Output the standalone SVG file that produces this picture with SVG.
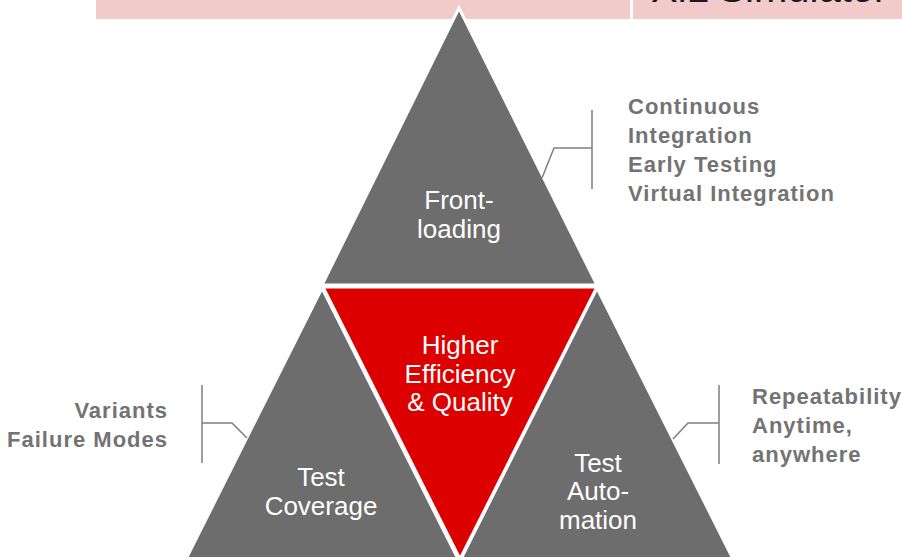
<svg xmlns="http://www.w3.org/2000/svg" width="902" height="557" viewBox="0 0 902 557">
<style>
.tri{fill:#6d6d6d;stroke:#fff;stroke-width:3;stroke-linejoin:miter}
.red{fill:#dc0000;stroke:#fff;stroke-width:3}
.in{font-family:"Liberation Sans",Arial,sans-serif;font-size:26px;fill:#fff;text-anchor:middle}
.lab{font-family:"Liberation Sans",Arial,sans-serif;font-size:22px;font-weight:bold;fill:#737373;letter-spacing:1px}
.br{fill:none;stroke:#7f7f7f;stroke-width:1.5}
</style>
<rect width="902" height="557" fill="#fff"/>
<g id="banner">
<rect x="96" y="0" width="534" height="19" fill="#f2caca"/>
<rect x="633" y="0" width="269" height="19" fill="#f2caca"/>
<text x="651" y="2" font-family="Liberation Sans,Arial,sans-serif" font-size="40" fill="#1a1a1a">XiL Simulator</text>
</g>
<g id="frontloading">
<polygon class="tri" points="459,8 322,285 597,285"/>
<text class="in" x="459" y="209">Front-</text>
<text class="in" x="459" y="238">loading</text>
</g>
<g id="coverage">
<polygon class="tri" points="322,288 185,561 459,561"/>
<text class="in" x="321" y="486">Test</text>
<text class="in" x="321" y="515">Coverage</text>
</g>
<g id="automation">
<polygon class="tri" points="597,288 460,561 734,561"/>
<text class="in" x="598" y="472">Test</text>
<text class="in" x="598" y="500">Auto-</text>
<text class="in" x="598" y="529">mation</text>
</g>
<g id="quality">
<polygon class="red" points="323,287 597,287 460,559"/>
<text class="in" x="460" y="354">Higher</text>
<text class="in" x="460" y="383">Efficiency</text>
<text class="in" x="460" y="411">&amp; Quality</text>
</g>
<g id="connectors">
<path class="br" d="M592,110 V189 M592,148 H554 L542,178"/>
<path class="br" d="M202,385 V463 M202,423 H232 L247,438"/>
<path class="br" d="M719,385 V464 M719,423 H688 L673,439"/>
</g>
<g id="labels-top">
<text class="lab" x="628" y="114">Continuous</text>
<text class="lab" x="628" y="143">Integration</text>
<text class="lab" x="628" y="172">Early Testing</text>
<text class="lab" x="628" y="201">Virtual Integration</text>
</g>
<g id="labels-left">
<text class="lab" x="168" y="418" text-anchor="end">Variants</text>
<text class="lab" x="168" y="447" text-anchor="end">Failure Modes</text>
</g>
<g id="labels-right">
<text class="lab" x="752" y="404">Repeatability</text>
<text class="lab" x="752" y="433">Anytime,</text>
<text class="lab" x="752" y="462">anywhere</text>
</g>
</svg>
